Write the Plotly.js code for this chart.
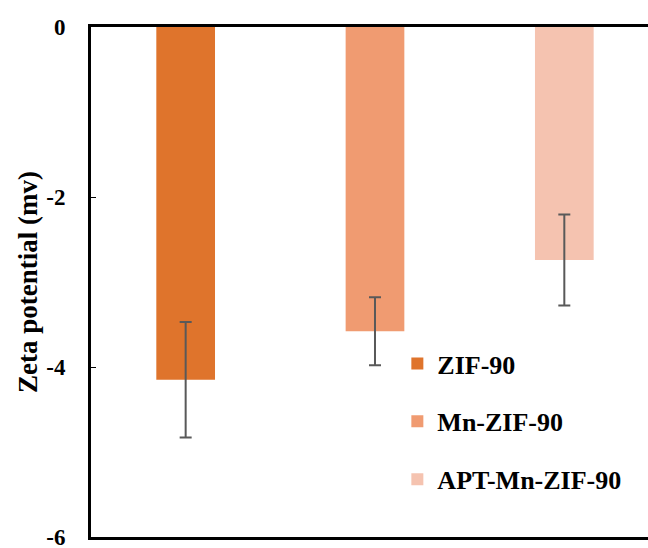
<!DOCTYPE html>
<html>
<head>
<meta charset="utf-8">
<script src="https://cdn.plot.ly/plotly-3.0.1.min.js"></script>
<style>html,body{margin:0;padding:0;background:#fff;}#chart{width:648px;height:548px;}</style>
</head>
<body>
<div id="chart"></div>
<script>
const categories = ["ZIF-90", "Mn-ZIF-90", "APT-Mn-ZIF-90"];
const zetaValues = [-4.15, -3.58, -2.74];
const zetaErrors = [0.68, 0.40, 0.535];
const barColors = ["#DF742C", "#F09B71", "#F5C3B0"];
const yTickValues = [0, -2, -4, -6];
const yTickLabels = ["0", "-2", "-4", "-6"];

const fontFamily = "Liberation Serif";

const traces = categories.map((name, i) => ({
  type: "bar",
  name: name,
  legendgroup: "g" + i,
  x: [name],
  y: [zetaValues[i]],
  width: 0.31,
  marker: {color: barColors[i], line: {width: 0}},
  error_y: {type: "data", array: [zetaErrors[i]], visible: true, color: "#595959", thickness: 2, width: 6}
}));

const layout = {
  width: 648,
  height: 548,
  margin: {l: 91, r: 0, t: 27, b: 11},
  paper_bgcolor: "#ffffff",
  plot_bgcolor: "#ffffff",
  barmode: "overlay",
  font: {family: fontFamily, size: 23, color: "#000000", weight: "bold"},
  showlegend: true,
  legend: {
    x: 0.55, xanchor: "left",
    y: 0.386, yanchor: "top",
    bgcolor: "rgba(0,0,0,0)",
    font: {family: fontFamily, size: 26, color: "#000000", weight: "bold"},
    tracegroupgap: 21,
    itemclick: false
  },
  xaxis: {
    type: "category",
    categoryorder: "array",
    categoryarray: categories,
    range: [-0.5, 2.442],
    showticklabels: false,
    ticks: "",
    showgrid: false,
    zeroline: false,
    showline: true,
    mirror: true,
    linecolor: "#000000",
    linewidth: 3
  },
  yaxis: {
    range: [-6, 0],
    tickvals: yTickValues,
    ticktext: yTickLabels,
    ticks: "inside",
    ticklen: 5,
    tickwidth: 1,
    tickcolor: "#000000",
    ticklabelstandoff: 18,
    ticklabeloverflow: "allow",
    tickfont: {family: fontFamily, size: 23, color: "#000000", weight: "bold"},
    showgrid: false,
    zeroline: false,
    showline: true,
    mirror: false,
    linecolor: "#000000",
    linewidth: 3,
    title: {text: "Zeta potential (mv)", standoff: 1, font: {family: fontFamily, size: 27, color: "#000000", weight: "bold"}},
    automargin: false
  }
};

Plotly.newPlot("chart", traces, layout, {displayModeBar: false, staticPlot: true});
</script>
</body>
</html>
